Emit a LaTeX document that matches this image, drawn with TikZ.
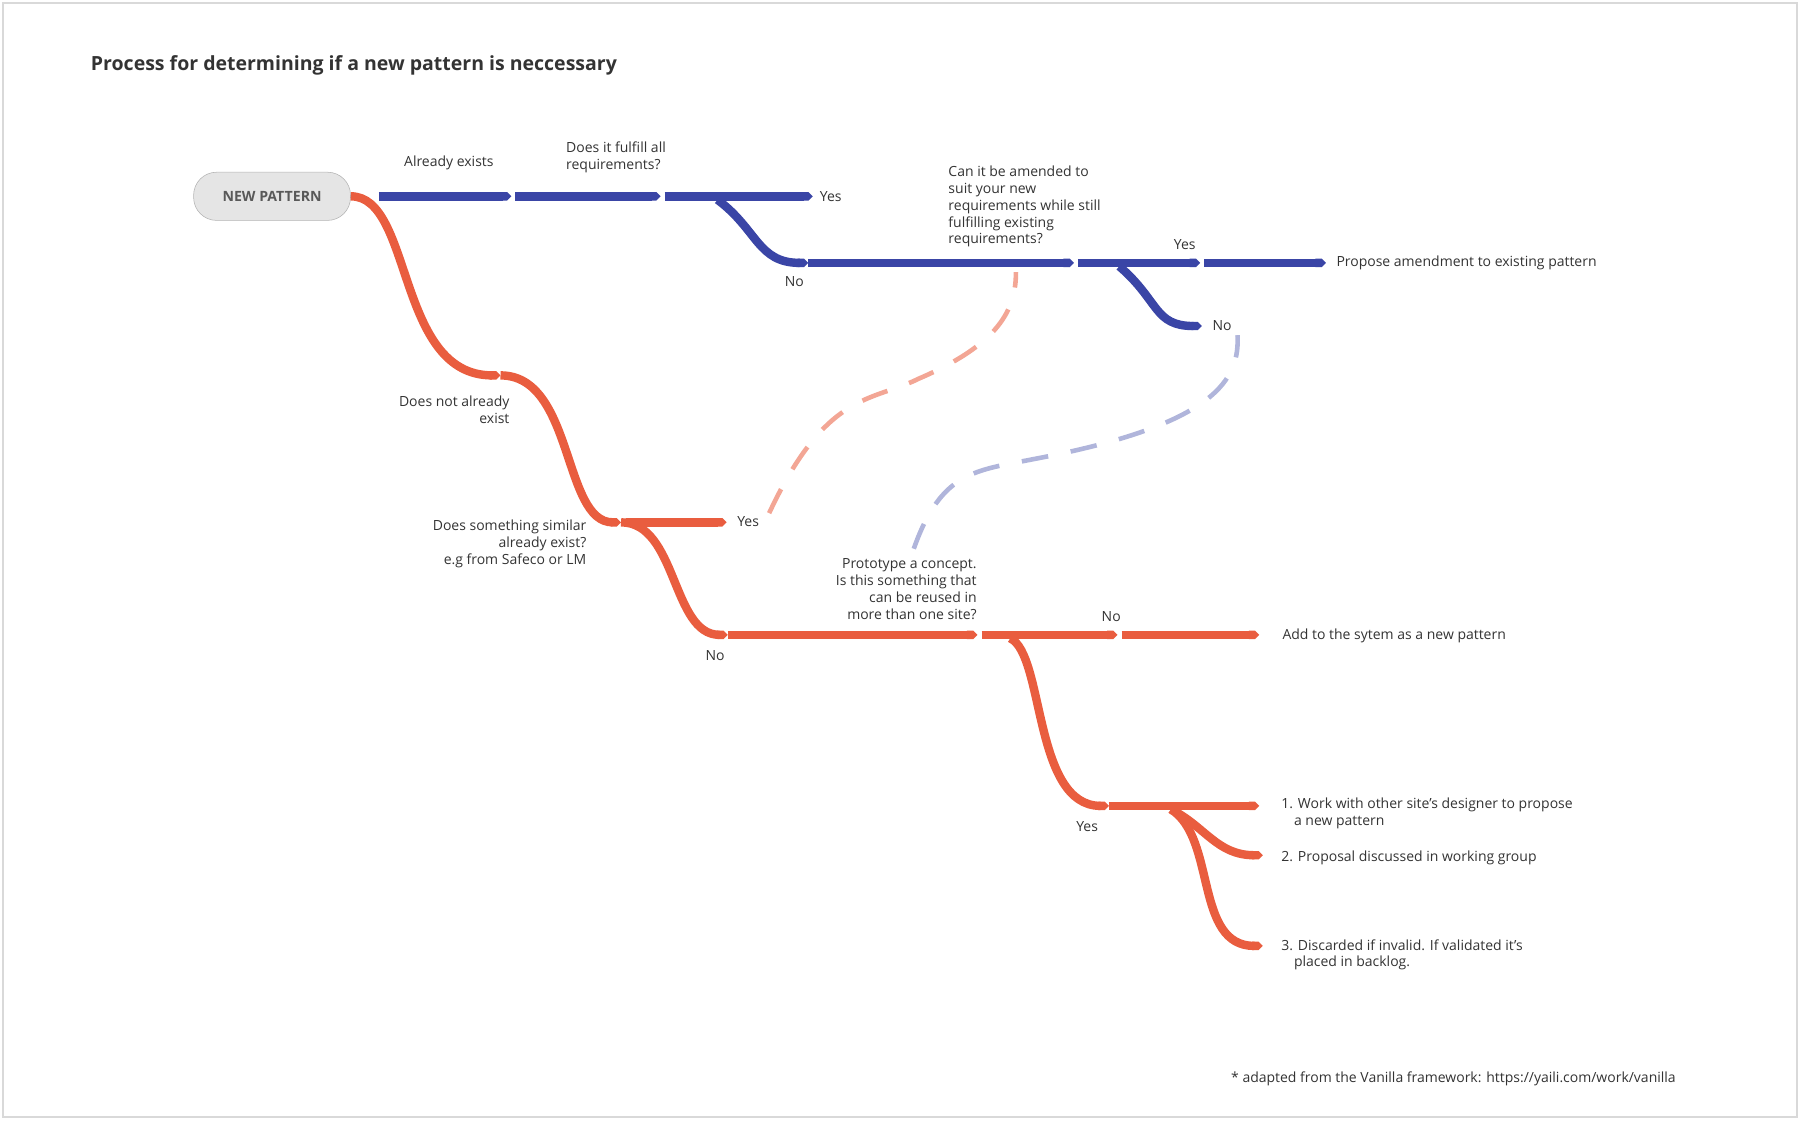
\documentclass[tikz,border=0pt]{standalone}
\usepackage{fontspec}
\setmainfont{Open Sans}
\usetikzlibrary{arrows.meta}
\definecolor{flowblue}{HTML}{3A45A6}
\definecolor{flowred}{HTML}{E95D3F}
\tikzset{>=latex}
\tikzset{
  blueflow/.style = {flowblue, line width = 2.2mm, -{Triangle Cap[]}},
  redflow/.style = {flowred, line width = 2.2mm, -{Triangle Cap[]}},
  hint/.style = {line width = 1.2mm, dash pattern = on 7mm off 6mm},
  txt/.style = {font = {\fontsize{10.4pt}{12.6pt}\selectfont}, text = black!80, inner sep = 0pt},
}
\begin{document}
\begin{tikzpicture}[x = 0.3mm, y = -0.3mm]
\useasboundingbox (0,0) rectangle (1568,976);
\draw[black!15, line width = 0.5mm] (3,3) rectangle (1565,973);

\node[anchor = west, inner sep = 0pt, font = {\fontsize{14.5pt}{16pt}\selectfont\bfseries}, text = black!80] (title) at (79,57) {Process for determining if a new pattern is neccessary};

\node[draw = black!30, fill = black!10, rounded corners = 6mm, minimum width = 41mm, minimum height = 12.6mm, font = {\fontsize{10.5pt}{12pt}\selectfont\bfseries}, text = black!65] (start) at (237,171) {NEW PATTERN};

% junctions
\coordinate (b1) at (330,171);
\coordinate (b2) at (449,171);
\coordinate (b3) at (579,171);
\coordinate (bYes) at (708,171);
\coordinate (bNo) at (704,229);
\coordinate (c2) at (939,229);
\coordinate (c3) at (1049,229);
\coordinate (cEnd) at (1155,229);
\coordinate (cNo) at (1047,284);
\coordinate (r1) at (436,327);
\coordinate (r2) at (541,455);
\coordinate (rYes) at (633,455);
\coordinate (rNo) at (634,553);
\coordinate (s2) at (855,553);
\coordinate (s3) at (977,553);
\coordinate (sEnd) at (1097,553);
\coordinate (t1) at (966,702);
\coordinate (tEnd) at (1097,702);
\coordinate (tTwo) at (1100,745);
\coordinate (tThree) at (1100,824);

% dashed hints
\draw[hint, flowred!55] (670,447) .. controls (720,340) and (760,350) .. (800,330) .. controls (870,300) and (885,270) .. (885,237);
\draw[hint, flowblue!40] (796,478) .. controls (820,410) and (850,410) .. (900,400) .. controls (1060,370) and (1080,330) .. (1078,292);

% blue flow
\draw[blueflow] (b1) -- ([xshift = -3]b2);
\draw[blueflow] (b2) -- ([xshift = -3]b3);
\draw[blueflow] (b3) -- (bYes);
\draw[blueflow] (625,174) .. controls (660,200) and (660,229) .. (bNo);
\draw[blueflow] (bNo) -- ([xshift = -3]c2);
\draw[blueflow] (c2) -- ([xshift = -3]c3);
\draw[blueflow] (c3) -- (cEnd);
\draw[blueflow] (975,232) .. controls (1010,262) and (1005,284) .. (cNo);

% red flow
\draw[redflow] (start.east) .. controls (360,171) and (345,327) .. (r1);
\draw[redflow] (r1) .. controls (500,327) and (490,455) .. (r2);
\draw[redflow] (545,455) -- (rYes);
\draw[redflow] (r2) .. controls (590,455) and (585,553) .. (rNo);
\draw[redflow] (rNo) -- ([xshift = -3]s2);
\draw[redflow] (s2) -- ([xshift = -3]s3);
\draw[redflow] (s3) -- (sEnd);
\draw[redflow] (880,556) .. controls (910,570) and (900,702) .. (t1);
\draw[redflow] (t1) -- (tEnd);
\draw[redflow] (1020,705) .. controls (1050,720) and (1060,745) .. (tTwo);
\draw[redflow] (1020,705) .. controls (1060,730) and (1040,824) .. (tThree);

% labels
\node[txt] (lExists) at (391,142) {Already exists};
\node[txt, anchor = west, align = left] (lFulfill) at (493,137) {Does it fulfill all\\requirements?};
\node[txt, anchor = west] (lYes1) at (714,171) {Yes};
\node[txt] (lNo1) at (692,245) {No};
\node[txt, anchor = north west, align = left] (lAmend) at (826,144) {Can it be amended to\\suit your new\\requirements while still\\fulfilling existing\\requirements?};
\node[txt] (lYes2) at (1032,213) {Yes};
\node[txt, anchor = west] (lPropose) at (1164,229) {Propose amendment to existing pattern};
\node[txt, anchor = west] (lNo2) at (1056,284) {No};
\node[txt, anchor = east, align = right] (lNotExist) at (444,357) {Does not already\\exist};
\node[txt, anchor = east, align = right] (lSimilar) at (511,474) {Does something similar\\already exist?\\e.g from Safeco or LM};
\node[txt, anchor = west] (lYes3) at (642,454) {Yes};
\node[txt] (lNo3) at (623,571) {No};
\node[txt, anchor = east, align = right] (lProto) at (851,513) {Prototype a concept.\\Is this something that\\can be reused in\\more than one site?};
\node[txt] (lNo4) at (968,537) {No};
\node[txt, anchor = west] (lAdd) at (1117,554) {Add to the sytem as a new pattern};
\node[txt] (lYes4) at (947,720) {Yes};
\node[txt, anchor = north west, align = left] (lStep1) at (1116,695) {1. Work with other site's designer to propose\\\hspace*{3.3mm}a new pattern};
\node[txt, anchor = west] (lStep2) at (1116,747) {2. Proposal discussed in working group};
\node[txt, anchor = north west, align = left] (lStep3) at (1116,818) {3. Discarded if invalid. If validated it's\\\hspace*{3.3mm}placed in backlog.};
\node[txt, anchor = east] (lNote) at (1460,940) {* adapted from the Vanilla framework: https://yaili.com/work/vanilla};
\end{tikzpicture}
\end{document}
